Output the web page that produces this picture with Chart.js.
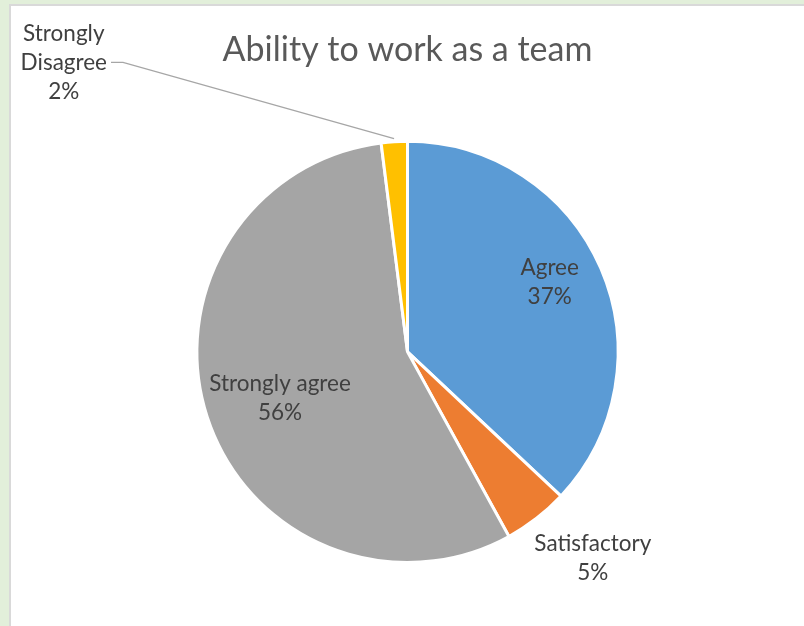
<!DOCTYPE html>
<html>
<head>
<meta charset="utf-8">
<script src="https://cdn.jsdelivr.net/npm/chart.js@4.4.1/dist/chart.umd.min.js"></script>
<style>
  html, body { margin: 0; padding: 0; background: #E2EFDA; width: 804px; height: 626px; overflow: hidden; }
  #wrap { position: absolute; left: 9px; top: 4px; width: 793px; height: 620px; background: #fff;
          border-left: 2px solid #D9D9D9; border-top: 2px solid #D9D9D9; }
  canvas { display: block; }
</style>
</head>
<body>
<div id="wrap"><canvas id="c" width="793" height="620"></canvas></div>
<script>
const categories = ['Agree', 'Satisfactory', 'Strongly agree', 'Strongly Disagree'];
const values = [37, 5, 56, 2];
const colors = ['#5B9BD5', '#ED7D31', '#A5A5A5', '#FFC000'];
const titleText = 'Ability to work as a team';

// label placement (style): offset of label block centre relative to pie centre, in radius units
const labelOffsets = [[0.675, -0.33], [0.88, 0.98], [-0.605, 0.22], [-1.632, -1.375]];
const labelLines = [['Agree'], ['Satisfactory'], ['Strongly agree'], ['Strongly', 'Disagree']];

const FONT = 'Lato, "Open Sans", sans-serif';
const LABEL_SIZE = 22.5;

const labelPlugin = {
  id: 'pieLabels',
  afterDatasetsDraw(chart) {
    const ctx = chart.ctx;
    const meta = chart.getDatasetMeta(0);
    const total = values.reduce((a, b) => a + b, 0);
    ctx.save();
    ctx.font = LABEL_SIZE + 'px ' + FONT;
    ctx.fillStyle = '#404040';
    ctx.textAlign = 'center';
    ctx.textBaseline = 'middle';
    const lh = 29;
    meta.data.forEach((arc, i) => {
      const p = arc.getProps(['x', 'y', 'outerRadius', 'startAngle', 'endAngle'], true);
      const r = p.outerRadius;
      const cx = p.x + labelOffsets[i][0] * r;
      const cy = p.y + labelOffsets[i][1] * r;
      const lines = labelLines[i].concat([Math.round(values[i] / total * 100) + '%']);
      const top = cy - (lines.length - 1) * lh / 2;
      lines.forEach((t, k) => ctx.fillText(t, cx, top + k * lh));
      if (i === 3) {
        // leader line from the slice edge to the label
        const mid = (p.startAngle + p.endAngle) / 2;
        const ex = p.x + Math.cos(mid) * (r + 3);
        const ey = p.y + Math.sin(mid) * (r + 3);
        const w = ctx.measureText(labelLines[i][1]).width;
        const ly = top + lh;
        const lx0 = cx + w / 2 + 4;
        ctx.strokeStyle = '#A6A6A6';
        ctx.lineWidth = 1.3;
        ctx.beginPath();
        ctx.moveTo(lx0, ly);
        ctx.lineTo(lx0 + 12, ly);
        ctx.lineTo(ex, ey);
        ctx.stroke();
      }
    });
    ctx.restore();
  }
};

new Chart(document.getElementById('c'), {
  type: 'pie',
  data: {
    labels: categories,
    datasets: [{
      data: values,
      backgroundColor: colors,
      borderColor: '#FFFFFF',
      borderWidth: 3
    }]
  },
  options: {
    responsive: false,
    animation: false,
    layout: { padding: { top: 0, bottom: 62, left: 0, right: 0 } },
    plugins: {
      legend: { display: false },
      tooltip: { enabled: false },
      title: {
        display: true,
        text: titleText,
        color: '#595959',
        font: { family: FONT, size: 34, weight: 'normal' },
        padding: { top: 24, bottom: 69 }
      }
    }
  },
  plugins: [labelPlugin]
});
</script>
</body>
</html>
